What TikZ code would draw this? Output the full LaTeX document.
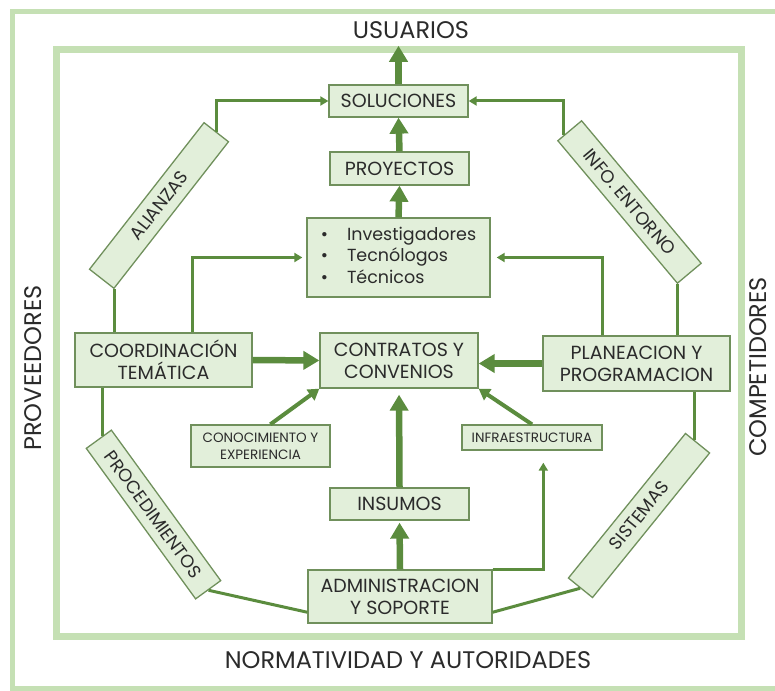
\documentclass[tikz,border=0pt]{standalone}
\usepackage{fontspec}
\setmainfont{Poppins}
\usetikzlibrary{arrows.meta,calc}

\definecolor{framegreen}{HTML}{C5E0B4}
\definecolor{boxfill}{HTML}{E2EFDA}
\definecolor{boxline}{HTML}{70905C}
\definecolor{flow}{HTML}{5B8C3E}
\definecolor{ink}{HTML}{2B2B2B}

\begin{document}
\begin{tikzpicture}[x=1pt,y=-1pt,
  frame/.style={draw=framegreen},
  box/.style={draw=boxline, fill=boxfill, line width=1.3pt, inner sep=0pt,
    text=ink, align=center, font=\fontsize{19}{22}\selectfont},
  smallbox/.style={box, font=\fontsize{13.5}{17}\selectfont},
  sidebox/.style={box, minimum width=186, minimum height=31,
    font=\fontsize{18}{20}\selectfont},
  label/.style={text=ink, inner sep=0pt, font=\fontsize{24}{26}\selectfont},
  conn/.style={draw=flow, line width=3pt},
  link/.style={conn, -{Triangle[length=8pt,width=9pt]}},
  mid/.style={draw=flow, line width=4pt, -{Triangle[length=11pt,width=13pt]}},
  big/.style={draw=flow, line width=6.5pt, -{Triangle[length=16pt,width=18pt]}}]

\useasboundingbox (0,0) rectangle (775,690);

% outer and inner frames
\draw[frame, line width=5pt] (12,12) rectangle (782,688);
\draw[frame, line width=7pt] (56,50) rectangle (741,636);

% environment labels
\node[label] (us) at (411,30) {USUARIOS};
\node[label] (nor) at (408,660) {NORMATIVIDAD Y AUTORIDADES};
\node[label, rotate=90] (prov) at (33,368) {PROVEEDORES};
\node[label, rotate=90] (comp) at (758,367) {COMPETIDORES};

% central column
\node[box, minimum width=139, minimum height=32] (sol) at (398.5,101) {SOLUCIONES};
\node[box, minimum width=139, minimum height=33] (pro) at (399.5,168.5) {PROYECTOS};
\node[box, minimum width=183, minimum height=79, font=\fontsize{17.5}{21.5}\selectfont] (inv) at (398.5,257.5)
  {\begin{tabular}{@{}l@{\hspace{19pt}}l@{}}
   \textbullet & Investigadores\\
   \textbullet & Tecnólogos\\
   \textbullet & Técnicos
   \end{tabular}};
\node[box, minimum width=158, minimum height=55] (ct) at (399,360.5) {CONTRATOS Y\\CONVENIOS};
\node[box, minimum width=139, minimum height=32] (ins) at (399.5,504) {INSUMOS};
\node[box, minimum width=184, minimum height=53] (ad) at (400,596.5) {ADMINISTRACION\\Y SOPORTE};

% side blocks
\node[box, minimum width=177, minimum height=54] (co) at (163.5,360) {COORDINACIÓN\\TEMÁTICA};
\node[box, minimum width=187, minimum height=55] (pl) at (636.5,363.5) {PLANEACION Y\\PROGRAMACION};
\node[smallbox, minimum width=139, minimum height=42] (cx) at (260.5,446) {CONOCIMIENTO Y\\EXPERIENCIA};
\node[smallbox, minimum width=140, minimum height=25] (inf) at (532,437.5) {INFRAESTRUCTURA};

% diagonal blocks of the ring
\node[sidebox, rotate=52] (al) at (159,205.5) {ALIANZAS};
\node[sidebox, rotate=-50] (ie) at (629.5,202) {INFO. ENTORNO};
\node[sidebox, rotate=-54] (pr) at (153.5,514.5) {PROCEDIMIENTOS};
\node[sidebox, rotate=51] (sis) at (639,515.5) {SISTEMAS};

% ring connectors
\draw[link] (al.east) |- (sol.west);
\draw[link] ($(ie.north west)!0.75!(ie.south west)$) |- (sol.east);
\draw[conn] (al.south west) -- (al.south west |- co.north);
\coordinate (prtop) at ($(pr.north west)!0.36!(pr.south west)$);
\draw[conn] (co.south -| prtop) -- (prtop);
\draw[conn] (pr.east) -- ($(ad.south west)!0.21!(ad.north west)$);
\draw[conn] ($(ad.south east)!0.21!(ad.north east)$) -- (sis.west);
\draw[conn] (ie.south east) -- (ie.south east |- pl.north);
\coordinate (sisr) at ($(sis.north east)!0.37!(sis.south east)$);
\draw[conn] (pl.south -| sisr) -- (sisr);

% links to the staff block
\draw[link, shorten >=4pt] ($(co.north west)!0.66!(co.north east)$) |- (inv.west);
\draw[link, shorten >=6pt] ($(pl.north west)!0.32!(pl.north east)$) |- (inv.east);

% administration feeds infrastructure
\draw[link, shorten >=12pt] (ad.north east) -| ($(inf.south west)!0.58!(inf.south east)$);

% inputs to contracts
\draw[mid] ($(cx.north west)!0.57!(cx.north east)$) -- (ct.south west);
\draw[mid] (inf.north) -- (ct.south east);

% main flow
\draw[big] (co.east) -- (ct.west);
\draw[big] (pl.west) -- (pl.west -| ct.east);
\draw[big, shorten >=6pt] (ins.north) -- (ct.south);
\draw[big, shorten >=2pt] (ad.north) -- (ins.south);
\draw[big] (inv.north) -- (pro.south);
\draw[big] (pro.north) -- (sol.south);
\draw[big] (sol.north) -- ([yshift=-7pt]sol.north |- us.south);

\end{tikzpicture}
\end{document}
